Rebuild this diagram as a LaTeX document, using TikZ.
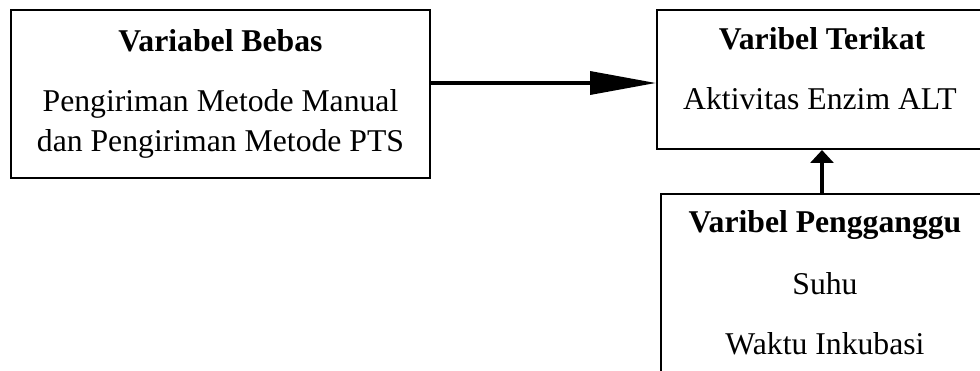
\documentclass[tikz,border=0pt]{standalone}
\usepackage{fontspec}
\setmainfont{Liberation Serif}
\usetikzlibrary{arrows.meta}
\begin{document}
\begin{tikzpicture}[x=1pt,y=-1pt,
  box/.style={draw=black, line width=2pt, rectangle, inner sep=0pt, fill=white},
  txt/.style={anchor=base, inner sep=0pt, font=\fontsize{31.7}{38}\selectfont},
  head/.style={txt, font=\fontsize{31.7}{38}\selectfont\bfseries},
  arr/.style={line width=3.5pt, -{Triangle[length=66pt,width=23pt]}},
  arrv/.style={line width=3.5pt, -{Triangle[length=13pt,width=23pt]}}]
  \useasboundingbox (0,0) rectangle (980,371);
  \clip (0,0) rectangle (980,371);
  % boxes
  \node[box, minimum width=419pt, minimum height=168pt] (bebas) at (220.5,94.5) {};
  \node[box, minimum width=340pt, minimum height=139pt] (terikat) at (827,79.5) {};
  \node[box, minimum width=340pt, minimum height=210pt] (pengganggu) at (831,299) {};
  % texts
  \node[head] (t1) at (220.5,52) {Variabel Bebas};
  \node[txt] (t2) at (220.5,112) {Pengiriman Metode Manual};
  \node[txt] (t3) at (220.5,152) {dan Pengiriman Metode PTS};
  \node[head] (t4) at (822,50) {Varibel Terikat};
  \node[txt] (t5) at (820,110) {Aktivitas Enzim ALT};
  \node[head] (t6) at (825,233) {Varibel Pengganggu};
  \node[txt] (t7) at (825,295) {Suhu};
  \node[txt] (t8) at (825,355) {Waktu Inkubasi};
  % connectors
  \coordinate (ah) at (0,83);
  \coordinate (av) at (822,0);
  \draw[arr] (bebas.east |- ah) -- (terikat.west |- ah);
  \draw[arrv] (pengganggu.north -| av) -- (terikat.south -| av);
\end{tikzpicture}
\end{document}
